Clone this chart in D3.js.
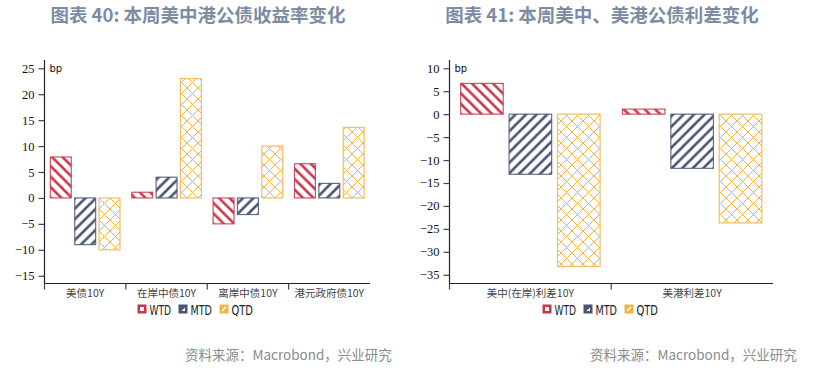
<!DOCTYPE html>
<html><head><meta charset="utf-8">
<script src="https://cdn.jsdelivr.net/npm/d3@7"></script>
<style>
body{margin:0;background:#fff;}
svg{display:block;}
</style></head>
<body>
<svg id="c" width="818" height="368"></svg>
<script>
// ---- data ----
const series = ["WTD", "MTD", "QTD"];
const cats1 = ["美债10Y", "在岸中债10Y", "离岸中债10Y", "港元政府债10Y"];
const wtd1 = [7.9, 1.1, -5.0, 6.6];
const mtd1 = [-9.0, 4.0, -3.2, 2.8];
const qtd1 = [-10.0, 23.0, 10.0, 13.6];
const ticks1 = [-15, -10, -5, 0, 5, 10, 15, 20, 25];

const cats2 = ["美中(在岸)利差10Y", "美港利差10Y"];
const wtd2 = [6.7, 1.1];
const mtd2 = [-13.1, -11.8];
const qtd2 = [-33.2, -23.7];
const ticks2 = [-35, -30, -25, -20, -15, -10, -5, 0, 5, 10];

const title1 = "图表 40: 本周美中港公债收益率变化";
const title2 = "图表 41: 本周美中、美港公债利差变化";
const source = "资料来源：Macrobond，兴业研究";

const colors = {WTD: "#c9374c", MTD: "#4b5571", QTD: "#f0b445"};

const svg = d3.select("#c");
const defs = svg.append("defs");
function hatch(id, color, dir, w) {
  const p = defs.append("pattern").attr("id", id).attr("patternUnits", "userSpaceOnUse")
    .attr("width", 10.5).attr("height", 10.5);
  const s = 10.5, h = s / 2;
  const d = dir === "back"
    ? `M${-h},${-h}L${s + h},${s + h}M${-h},${h}L${h},${s + h}M${h},${-h}L${s + h},${h}`
    : `M${-h},${s + h}L${s + h},${-h}M${-h},${h}L${h},${-h}M${h},${s + h}L${s + h},${h}`;
  p.append("path").attr("d", d).attr("stroke", color).attr("stroke-width", w).attr("fill", "none");
}
hatch("pW", colors.WTD, "back", 2.6);
hatch("pM", colors.MTD, "fwd", 2.6);
(function(){
  const p = defs.append("pattern").attr("id", "pQ").attr("patternUnits", "userSpaceOnUse")
    .attr("width", 11).attr("height", 11);
  p.append("path").attr("d", "M-5.5,-5.5L16.5,16.5M-5.5,5.5L5.5,16.5M5.5,-5.5L16.5,5.5M-5.5,16.5L16.5,-5.5M-5.5,5.5L5.5,-5.5M5.5,16.5L16.5,5.5")
    .attr("stroke", colors.QTD).attr("stroke-width", 1).attr("fill", "none");
})();
const fills = {WTD: "url(#pW)", MTD: "url(#pM)", QTD: "url(#pQ)"};

function chart(opt) {
  const {cats, vals, ticks, x0, x1, yTop, yBot, domain, title, titleX, legendX, sourceX} = opt;
  const g = svg.append("g");
  const x = d3.scaleBand().domain(cats).range([x0, x1]).paddingInner(0).paddingOuter(0);
  const inner = d3.scaleBand().domain(series).range([0, x.bandwidth()]).paddingInner(0.1).paddingOuter(0.22);
  const y = d3.scaleLinear().domain(domain).range([yBot, yTop]);

  // y axis
  const ya = g.append("g").attr("transform", `translate(${x0},0)`)
    .call(d3.axisLeft(y).tickValues(ticks).tickSize(6).tickPadding(4).tickFormat(d3.format("d")));
  ya.select(".domain").attr("d", `M0,${yTop}V${yBot}`).attr("stroke", "#222").attr("stroke-width", 1.2);
  ya.selectAll(".tick line").attr("stroke", "#444").attr("stroke-width", 1.2);
  ya.selectAll(".tick text").attr("font-family", "Liberation Serif, serif").attr("font-size", 12.5).attr("fill", "#111");

  // x axis
  const xa = g.append("g").attr("transform", `translate(0,${yBot})`)
    .call(d3.axisBottom(x).tickSize(0).tickPadding(6));
  xa.select(".domain").attr("d", `M${x0},0H${x1}`).attr("stroke", "#222").attr("stroke-width", 1.2);
  xa.selectAll(".tick text").attr("font-family", "Noto Sans CJK SC, Liberation Serif, serif")
    .attr("font-size", 10.5).attr("fill", "#444").attr("dy", "0.71em");
  // category separators
  g.selectAll(".sep").data(cats).enter().append("line")
    .attr("x1", d => x(d)).attr("x2", d => x(d)).attr("y1", yBot).attr("y2", yBot + 6)
    .attr("stroke", "#444").attr("stroke-width", 1.2);

  // bp label
  g.append("text").attr("x", x0 + 5).attr("y", y(ticks[ticks.length - 1]) + 4)
    .attr("font-family", "DejaVu Sans, sans-serif").attr("font-size", 10).attr("fill", "#111").text("bp");

  // bars
  cats.forEach((c, i) => {
    series.forEach(s => {
      const v = vals[s][i];
      g.append("rect")
        .attr("x", x(c) + inner(s) + 0.5)
        .attr("width", inner.bandwidth() - 1)
        .attr("y", Math.min(y(v), y(0)))
        .attr("height", Math.abs(y(v) - y(0)))
        .attr("fill", fills[s])
        .attr("stroke", colors[s]).attr("stroke-width", 1.2).attr("stroke-opacity", 0.85);
    });
  });

  // legend
  const lg = g.append("g").attr("transform", `translate(${legendX},304)`);
  series.forEach((s, i) => {
    const it = lg.append("g").attr("transform", `translate(${i * 41},0)`);
    it.append("rect").attr("x", 0).attr("y", 0.5).attr("width", 9).attr("height", 9).attr("fill", colors[s]);
    if (s === "WTD") it.append("rect").attr("x", 2.5).attr("y", 3).attr("width", 4).attr("height", 4).attr("fill", "#fff");
    if (s === "MTD") it.append("path").attr("d", "M3,7L6.5,7L6.5,3.5Z").attr("fill", "#fff");
    if (s === "QTD") it.append("path").attr("d", "M2.5,7L6.5,3").attr("stroke", "#fff").attr("stroke-width", 1.5);
    it.append("text").attr("x", 12).attr("y", 10.5).attr("font-family", "DejaVu Sans, sans-serif")
      .attr("font-size", 14).attr("textLength", 21.5).attr("lengthAdjust", "spacingAndGlyphs")
      .attr("fill", "#222").text(s);
  });

  // title
  svg.append("text").attr("x", titleX).attr("y", 22).attr("text-anchor", "middle")
    .attr("font-family", "Noto Sans CJK SC, sans-serif").attr("font-weight", "bold")
    .attr("font-size", 18.5).attr("fill", "#7d8ca2").text(title);
  // source
  svg.append("text").attr("x", sourceX).attr("y", 360)
    .attr("font-family", "Noto Sans CJK SC, sans-serif")
    .attr("font-size", 13.5).attr("fill", "#8a8a8a").text(source);
}

chart({cats: cats1, vals: {WTD: wtd1, MTD: mtd1, QTD: qtd1}, ticks: ticks1,
  x0: 44.5, x1: 370, yTop: 60, yBot: 283.5, domain: [-16.5, 26.6],
  title: title1, titleX: 198, legendX: 137.5, sourceX: 185});
chart({cats: cats2, vals: {WTD: wtd2, MTD: mtd2, QTD: qtd2}, ticks: ticks2,
  x0: 449.5, x1: 773, yTop: 60, yBot: 283.5, domain: [-36.9, 11.8],
  title: title2, titleX: 602, legendX: 542.5, sourceX: 590});
</script>
</body></html>
